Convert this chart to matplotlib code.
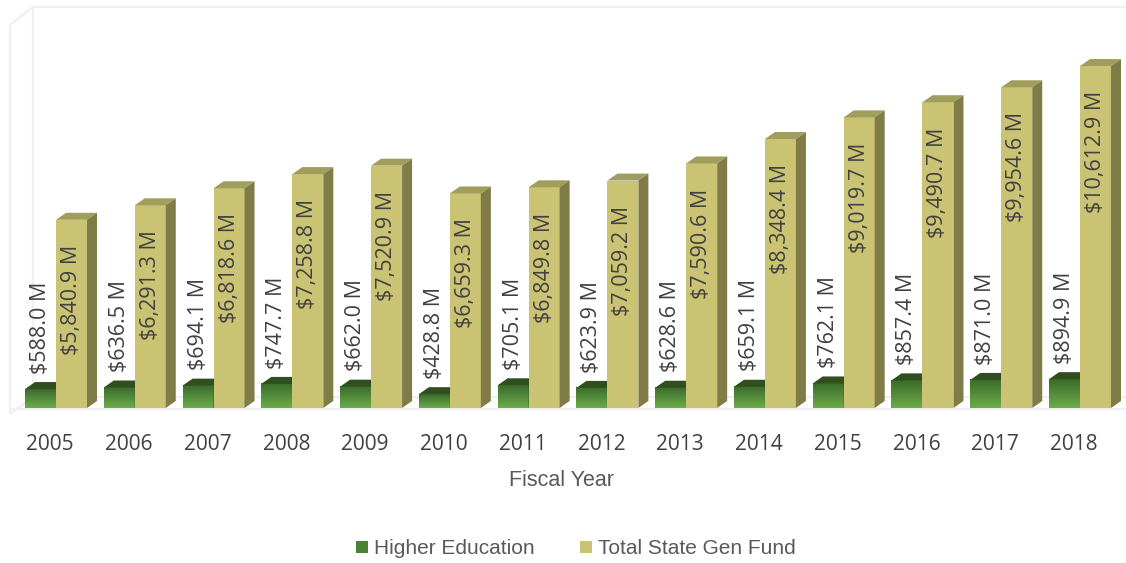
import matplotlib.pyplot as plt
import matplotlib.patches as mpatches
from matplotlib.colors import LinearSegmentedColormap
import numpy as np

years = ["2005", "2006", "2007", "2008", "2009", "2010", "2011",
         "2012", "2013", "2014", "2015", "2016", "2017", "2018"]
higher_ed = [588.0, 636.5, 694.1, 747.7, 662.0, 428.8, 705.1,
             623.9, 628.6, 659.1, 762.1, 857.4, 871.0, 894.9]
gen_fund = [5840.9, 6291.3, 6818.6, 7258.8, 7520.9, 6659.3, 6849.8,
            7059.2, 7590.6, 8348.4, 9019.7, 9490.7, 9954.6, 10612.9]

W, H = 1126, 563
PX_X = 78.77     # pixels per category
PX_Y = 0.03222   # pixels per $M

gold_front = "#C9C373"
gold_top = "#A19D5D"
gold_side = "#7F7C48"
green_top = "#2F4F1F"
green_cmap = LinearSegmentedColormap.from_list("grn", ["#6CAC4B", "#3B6B2B"])
wall = "#F0F0F0"
text_col = "#404040"

fig = plt.figure(figsize=(W / 100, H / 100), dpi=100)
ax = fig.add_axes([10 / W, (H - 408) / H, (W - 10) / W, (408 - 7) / H])
xlim = ((10 - 50) / PX_X, (W - 50) / PX_X)
ylim = (0, (408 - 7) / PX_Y)

# depth of the fake 3D faces, in data units
dx = 10 / PX_X
dy = 7 / PX_Y
bw = 31 / PX_X
off = -25 / PX_X


def px(x, y):
    # figure pixel (from top-left) to data coordinates
    return xlim[0] + (x - 10) / PX_X, (408 - y) / PX_Y


def wall_line(p0, p1):
    a, b = px(*p0), px(*p1)
    ax.plot([a[0], b[0]], [a[1], b[1]], color=wall, lw=1.6, zorder=0,
            clip_on=False, solid_capstyle="butt")


# walls and floor
wall_line((10, 25), (10, 414))
wall_line((10, 25), (33, 7))
wall_line((33, 7), (W, 7))
wall_line((33, 7), (33, 397))
wall_line((10, 414), (33, 397))
wall_line((33, 397), (W, 397))
wall_line((10, 409), (W, 409))


def box(x0, v, front, top, side, z, gradient=False):
    x1 = x0 + bw
    if gradient:
        grad = np.linspace(0, 1, 64).reshape(-1, 1)
        im = ax.imshow(grad, cmap=green_cmap, origin="lower", aspect="auto",
                       extent=[x0, x1, 0, v], zorder=z, clip_on=False)
        rect = mpatches.Rectangle((x0, 0), bw, v, transform=ax.transData,
                                  facecolor="none", edgecolor="none")
        im.set_clip_path(rect)
    else:
        ax.add_patch(mpatches.Rectangle((x0, 0), bw, v, facecolor=front,
                                        edgecolor="none", zorder=z, clip_on=False))
    ax.add_patch(mpatches.Polygon([(x0, v), (x1, v), (x1 + dx, v + dy), (x0 + dx, v + dy)],
                                  closed=True, facecolor=top, edgecolor="none",
                                  zorder=z, clip_on=False))
    ax.add_patch(mpatches.Polygon([(x1, 0), (x1 + dx, dy), (x1 + dx, v + dy), (x1, v)],
                                  closed=True, facecolor=side, edgecolor="none",
                                  zorder=z, clip_on=False))


for i in range(len(years)):
    gx = i + off
    fx = gx + bw
    box(gx, higher_ed[i], None, green_top, "#33571f", 2 + i * 2, gradient=True)
    box(fx, gen_fund[i], gold_front, gold_top, gold_side, 3 + i * 2)

    ax.annotate(f"${higher_ed[i]:,.1f} M", (gx + bw / 2, higher_ed[i]),
                xytext=(0, 11), textcoords="offset points", rotation=90,
                ha="center", va="bottom", fontsize=15.5, color=text_col,
                family="Open Sans", zorder=40)
    ax.annotate(f"${gen_fund[i]:,.1f} M", (fx + bw / 2, gen_fund[i]),
                xytext=(0, -18), textcoords="offset points", rotation=90,
                ha="center", va="top", fontsize=15.5, color=text_col,
                family="Open Sans", zorder=40)

ax.set_xlim(xlim)
ax.set_ylim(ylim)
ax.set_yticks([])
ax.set_xticks(range(len(years)))
ax.set_xticklabels(years, fontsize=15, color=text_col, family="Open Sans")
ax.tick_params(axis="x", length=0, pad=19)
for s in ax.spines.values():
    s.set_visible(False)
ax.patch.set_alpha(0)

fig.text(561.5 / W, (H - 480) / H, "Fiscal Year", ha="center", va="center",
         fontsize=15.5, color="#595959", family="Liberation Sans")

handles = [mpatches.Patch(facecolor="#4A8236", label="Higher Education"),
           mpatches.Patch(facecolor=gold_front, label="Total State Gen Fund")]
fig.legend(handles=handles, loc="center", bbox_to_anchor=(576 / W, (H - 549) / H),
           ncol=2, frameon=False, handlelength=0.55, handleheight=0.55,
           handletextpad=0.3, columnspacing=2.2,
           prop={"family": "Liberation Sans", "size": 15}, labelcolor="#595959")

fig.savefig("out.png", dpi=100)
